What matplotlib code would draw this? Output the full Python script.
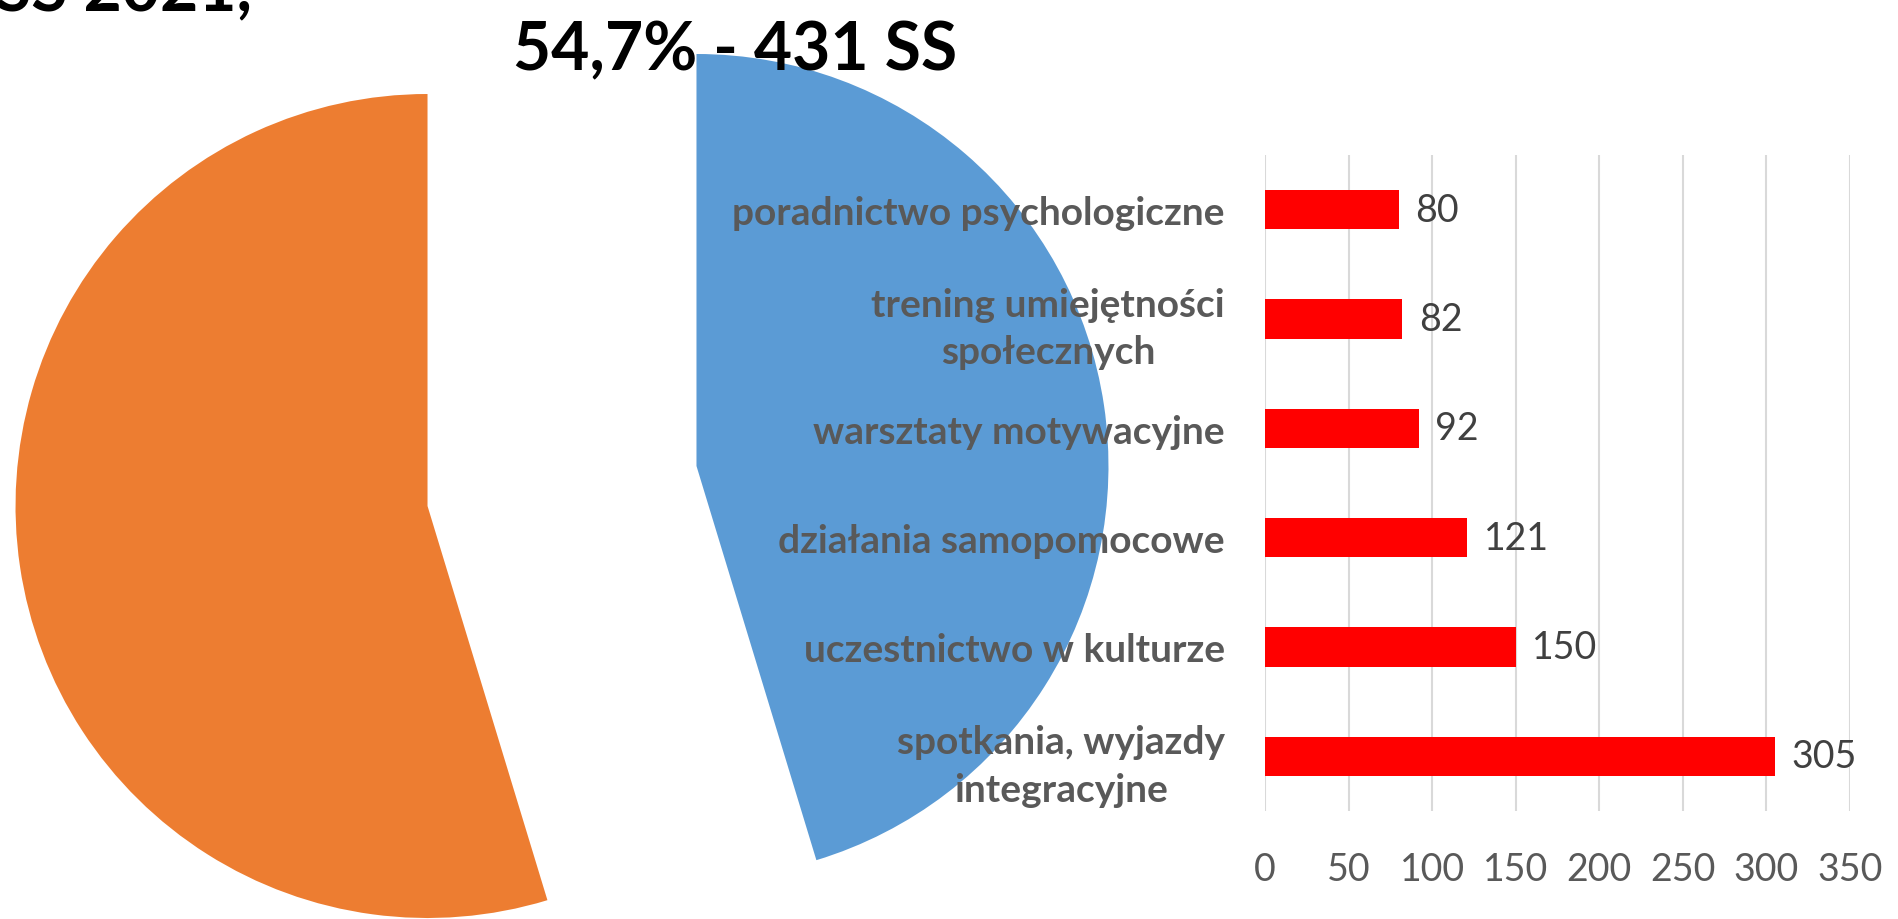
import matplotlib
matplotlib.use("Agg")
import matplotlib.pyplot as plt

# ---- data ----
pie_values = [54.7, 45.3]
pie_colors = ["#ED7D31", "#5B9BD5"]
title_text = "54,7% - 431 SS"
cut_text = "SS 2021,"

categories = [
    "spotkania, wyjazdy\nintegracyjne",
    "uczestnictwo w kulturze",
    "działania samopomocowe",
    "warsztaty motywacyjne",
    "trening umiejętności\nspołecznych",
    "poradnictwo psychologiczne",
]
values = [305, 150, 121, 92, 82, 80]
xticks = [0, 50, 100, 150, 200, 250, 300, 350]

FONT = "Lato"
W, H = 1898, 920
fig = plt.figure(figsize=(W / 100, H / 100), dpi=100)

# ---- exploded pie ----
R = 412.0
cx, cy = 562.0, H - 487.0
pax = fig.add_axes([0, 0, 1, 1])
pax.pie(pie_values, colors=pie_colors, startangle=90, counterclock=True,
        explode=[0.33, 0.33], wedgeprops=dict(linewidth=0))
pax.set_xlim(-cx / R, (W - cx) / R)
pax.set_ylim(-cy / R, (H - cy) / R)
pax.set_aspect("auto")
pax.axis("off")

# ---- bar chart ----
left, right, top, bottom = 1265, 1850, 156, 812
bax = fig.add_axes([left / W, (H - bottom) / H, (right - left) / W, (bottom - top) / H])
bax.set_facecolor("none")
ypos = list(range(len(categories)))
bars = bax.barh(ypos, values, height=0.36, color="#FF0000", zorder=3)
bax.set_xlim(0, 350)
bax.set_ylim(-0.5, len(categories) - 0.5)
bax.set_xticks(xticks)
bax.set_xticklabels([str(t) for t in xticks], fontfamily=FONT, fontsize=27, color="#595959")
bax.set_yticks(ypos)
bax.set_yticklabels(categories, fontfamily=FONT, fontsize=28, fontweight="bold", color="#595959")
for t in bax.get_yticklabels():
    t.set_multialignment("center")
    t.set_linespacing(1.42)
bax.tick_params(axis="both", length=0)
bax.tick_params(axis="y", pad=29)
bax.tick_params(axis="x", pad=29)
bax.grid(axis="x", color="#D9D9D9", linewidth=1.5, zorder=0)
for s in bax.spines.values():
    s.set_visible(False)
bax.bar_label(bars, labels=[str(v) for v in values], padding=12,
              fontfamily=FONT, fontsize=27, color="#404040")

# ---- texts ----
fig.text(735 / W, (H - 70) / H, title_text, ha="center", va="baseline",
         fontfamily=FONT, fontsize=47.5, fontweight="bold", color="black")
fig.text(252 / W, (H - 11) / H, cut_text, ha="right", va="baseline",
         fontfamily=FONT, fontsize=47.5, fontweight="bold", color="black")

fig.savefig("out.png", dpi=100)
